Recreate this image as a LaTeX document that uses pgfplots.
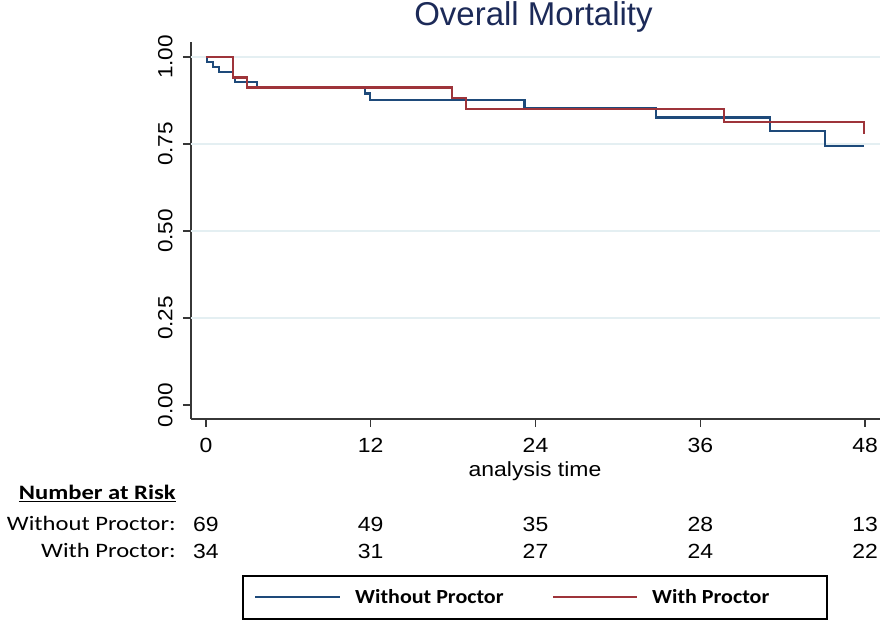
\documentclass[border=0pt]{standalone}
\usepackage{pgfplots}
\pgfplotsset{compat=1.18}
\usepackage{fontspec}
\setmainfont{Liberation Sans}
\newfontfamily\calibri{Carlito}
\definecolor{kmblue}{RGB}{30,74,122}
\definecolor{kmred}{RGB}{158,52,58}
\definecolor{gridc}{RGB}{228,239,242}
\definecolor{titlec}{RGB}{28,42,88}
\definecolor{spinec}{RGB}{55,55,55}
\tikzset{risknum/.style={anchor=base, font=\fontsize{20.5}{24}\selectfont, xscale=1.12}}
\begin{document}
\begin{tikzpicture}[x=1pt,y=1pt]
\useasboundingbox (0,0) rectangle (895,626);
\begin{axis}[
  at={(191pt,207pt)}, anchor=south west,
  scale only axis, width=689pt, height=377pt,
  xmin=-1.09, xmax=49.09, ymin=-0.040, ymax=1.043,
  axis lines=left, axis line style={-, draw=spinec, line width=1.4pt},
  xtick={0,12,24,36,48},
  xticklabels={0,12,24,36,48},
  ytick={0,0.25,0.5,0.75,1},
  yticklabels={0.00,0.25,0.50,0.75,1.00},
  tick align=outside, major tick length=8pt,
  tick style={draw=spinec, line width=1.4pt},
  xticklabel style={font=\fontsize{20.5}{24}\selectfont, yshift=-8pt, xscale=1.12},
  yticklabel style={font=\fontsize{20.5}{24}\selectfont, xshift=-7pt, rotate=90, xscale=1.1, anchor=south},
  extra y ticks={0.25,0.5,0.75,1},
  extra y tick labels={},
  extra y tick style={grid=major, major grid style={draw=gridc, line width=1.2pt}, major tick length=0pt},
  clip=false,
]
\addplot[const plot, kmblue, line width=2.2pt] coordinates {
(0,1) (0.05,0.986) (0.53,0.971) (0.97,0.957) (1.94,0.942) (2.1,0.928) (3.69,0.913)
(11.58,0.895) (11.94,0.877) (23.2,0.853) (32.8,0.826) (41.1,0.788) (45.1,0.744) (47.95,0.744)};
\addplot[const plot, kmred, line width=2.2pt] coordinates {
(0,1) (1.94,0.941) (2.96,0.912) (17.9,0.881) (18.94,0.850) (37.7,0.814) (47.95,0.779)};
% number at risk
\node[risknum] at (axis cs:0,-0.362) {69};
\node[risknum] at (axis cs:12,-0.362) {49};
\node[risknum] at (axis cs:24,-0.362) {35};
\node[risknum] at (axis cs:36,-0.362) {28};
\node[risknum] at (axis cs:48,-0.362) {13};
\node[risknum] at (axis cs:0,-0.440) {34};
\node[risknum] at (axis cs:12,-0.440) {31};
\node[risknum] at (axis cs:24,-0.440) {27};
\node[risknum] at (axis cs:36,-0.440) {24};
\node[risknum] at (axis cs:48,-0.440) {22};
\end{axis}
\node[anchor=base, font=\fontsize{33}{40}\selectfont, text=titlec] at (533.5,600) {Overall Mortality};
\node[anchor=base, font=\fontsize{20.5}{24}\selectfont, xscale=1.12] at (535,149) {analysis time};
\node[anchor=base east, inner sep=0pt, font=\calibri\bfseries\fontsize{20.5}{24}\selectfont, xscale=1.2] at (176,126) {\underline{Number at Risk}};
\node[anchor=base east, inner sep=0pt, font=\calibri\fontsize{20.5}{24}\selectfont, xscale=1.2] at (176,95) {Without Proctor:};
\node[anchor=base east, inner sep=0pt, font=\calibri\fontsize{20.5}{24}\selectfont, xscale=1.2] at (176,68) {With Proctor:};
% legend
\draw[black, line width=1.2pt] (243,7) rectangle (827,50);
\draw[kmblue, line width=2pt] (255,29) -- (340,29);
\draw[kmred, line width=2pt] (553,29) -- (637,29);
\node[anchor=base west, inner sep=0pt, font=\calibri\bfseries\fontsize{20}{24}\selectfont, xscale=1.1] at (355,22) {Without Proctor};
\node[anchor=base west, inner sep=0pt, font=\calibri\bfseries\fontsize{20}{24}\selectfont, xscale=1.1] at (652,22) {With Proctor};
\end{tikzpicture}
\end{document}
